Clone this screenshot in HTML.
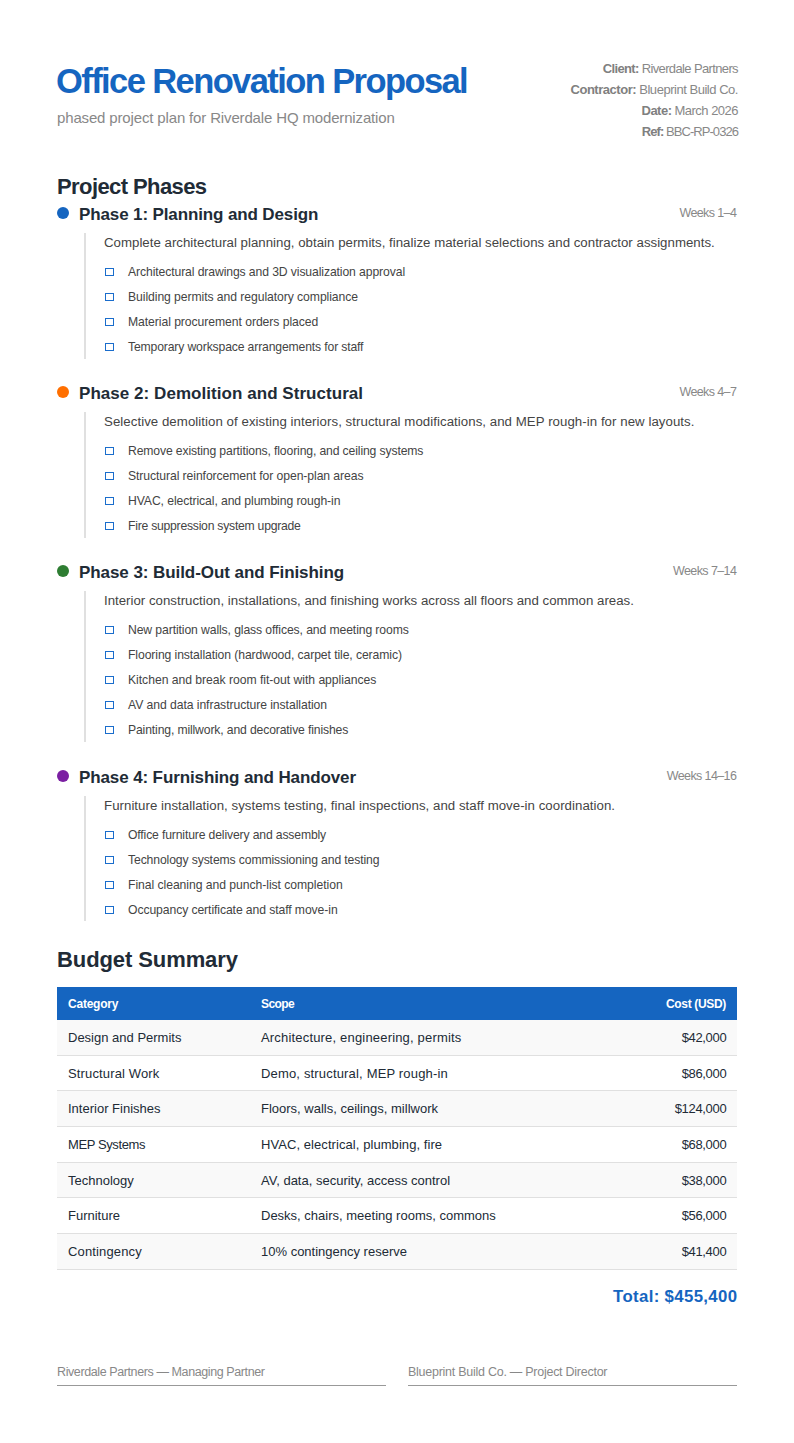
<!DOCTYPE html>
<html><head><meta charset="utf-8">
<style>
*{box-sizing:border-box;margin:0;padding:0}
html,body{background:#fff;width:794px;height:1443px;overflow:hidden}
body{font-family:"Liberation Sans",sans-serif;color:#212b36;position:relative}
.hdr{position:absolute;left:57px;top:0;width:680px;height:160px}
.title{position:absolute;left:-1px;top:60.5px;font-size:34.5px;line-height:40px;font-weight:bold;color:#1565c0;letter-spacing:-1.59px;white-space:nowrap}
.sub{position:absolute;left:0;top:107.5px;font-size:15px;line-height:20px;color:#888;letter-spacing:-0.15px;white-space:nowrap}
.meta{position:absolute;right:-1px;top:58.7px;text-align:right;font-size:13px;color:#888;white-space:nowrap}
.meta div{height:21.25px;line-height:20px}
.meta b{color:#808080}
h2{position:absolute;left:57px;font-size:22px;line-height:28px;font-weight:bold;color:#212b36;white-space:nowrap}
.phase{position:absolute;left:57px;width:680px}
.ph{height:24px;position:relative}
.dot{position:absolute;left:0;top:5px;width:12px;height:12px;border-radius:50%}
.pt{position:absolute;left:22px;top:1px;font-size:17px;line-height:24px;font-weight:bold;white-space:nowrap}
.wk{position:absolute;right:0.7px;top:1px;font-size:12.5px;line-height:20px;color:#888;letter-spacing:-0.6px;white-space:nowrap}
.pb{margin-left:27px;margin-top:7px;border-left:2px solid #e0e0e0;padding-left:18px}
.desc{position:relative;top:1px;font-size:13.25px;line-height:18px;color:#444;white-space:nowrap;margin-bottom:7.5px}
.it{position:relative;top:1.5px;height:25px;line-height:25px;font-size:12.2px;color:#444;padding-left:24px;white-space:nowrap}
.cb{position:absolute;left:1px;top:8px;width:9px;height:8px;border:1px solid #1a6dcc}
table{position:absolute;left:57px;top:987px;width:680px;border-collapse:collapse;font-size:13px}
th{background:#1565c0;color:#fff;font-weight:bold;text-align:left;height:32.5px;padding:2px 11px 0;font-size:12px}
td{height:35.7px;padding:0 11px;border-bottom:1px solid #e0e0e0;color:#212b36}
tbody tr:nth-child(odd) td{background:#f9f9f9}
.r{text-align:right}
td.r{letter-spacing:-0.33px;padding-right:10.7px}
.total{position:absolute;right:56.6px;top:1284.5px;font-size:16.8px;line-height:24px;font-weight:bold;color:#1565c0;letter-spacing:0.35px;white-space:nowrap}
.sig{position:absolute;top:1360px;width:329px;height:26px;border-bottom:1px solid #999;font-size:12.5px;line-height:24px;color:#888;letter-spacing:-0.35px;white-space:nowrap}
</style></head>
<body>
<div class="hdr">
  <div class="title">Office Renovation Proposal</div>
  <div class="sub">phased project plan for Riverdale HQ modernization</div>
  <div class="meta">
    <div style="letter-spacing:-0.63px"><b>Client:</b> Riverdale Partners</div>
    <div style="letter-spacing:-0.47px"><b>Contractor:</b> Blueprint Build Co.</div>
    <div style="letter-spacing:-0.52px"><b>Date:</b> March 2026</div>
    <div style="letter-spacing:-0.94px"><b>Ref:</b> BBC-RP-0326</div>
  </div>
</div>

<h2 style="top:173px;letter-spacing:-0.59px">Project Phases</h2>

<div class="phase" style="top:202px">
  <div class="ph"><span class="dot" style="background:#1565c0"></span><span class="pt" style="letter-spacing:-0.126px">Phase 1: Planning and Design</span><span class="wk">Weeks 1–4</span></div>
  <div class="pb">
    <div class="desc" style="letter-spacing:0.016px">Complete architectural planning, obtain permits, finalize material selections and contractor assignments.</div>
    <div class="it" style="letter-spacing:-0.106px"><span class="cb"></span>Architectural drawings and 3D visualization approval</div>
    <div class="it" style="letter-spacing:-0.072px"><span class="cb"></span>Building permits and regulatory compliance</div>
    <div class="it" style="letter-spacing:-0.064px"><span class="cb"></span>Material procurement orders placed</div>
    <div class="it" style="letter-spacing:-0.149px"><span class="cb"></span>Temporary workspace arrangements for staff</div>
  </div>
</div>

<div class="phase" style="top:381px">
  <div class="ph"><span class="dot" style="background:#ff6f00"></span><span class="pt" style="letter-spacing:0.050px">Phase 2: Demolition and Structural</span><span class="wk">Weeks 4–7</span></div>
  <div class="pb">
    <div class="desc" style="letter-spacing:0.051px">Selective demolition of existing interiors, structural modifications, and MEP rough-in for new layouts.</div>
    <div class="it" style="letter-spacing:-0.132px"><span class="cb"></span>Remove existing partitions, flooring, and ceiling systems</div>
    <div class="it" style="letter-spacing:-0.085px"><span class="cb"></span>Structural reinforcement for open-plan areas</div>
    <div class="it" style="letter-spacing:-0.089px"><span class="cb"></span>HVAC, electrical, and plumbing rough-in</div>
    <div class="it" style="letter-spacing:-0.244px"><span class="cb"></span>Fire suppression system upgrade</div>
  </div>
</div>

<div class="phase" style="top:560px">
  <div class="ph"><span class="dot" style="background:#2e7d32"></span><span class="pt" style="letter-spacing:-0.068px">Phase 3: Build-Out and Finishing</span><span class="wk">Weeks 7–14</span></div>
  <div class="pb">
    <div class="desc" style="letter-spacing:0.004px">Interior construction, installations, and finishing works across all floors and common areas.</div>
    <div class="it" style="letter-spacing:-0.106px"><span class="cb"></span>New partition walls, glass offices, and meeting rooms</div>
    <div class="it" style="letter-spacing:-0.097px"><span class="cb"></span>Flooring installation (hardwood, carpet tile, ceramic)</div>
    <div class="it" style="letter-spacing:-0.037px"><span class="cb"></span>Kitchen and break room fit-out with appliances</div>
    <div class="it" style="letter-spacing:-0.068px"><span class="cb"></span>AV and data infrastructure installation</div>
    <div class="it" style="letter-spacing:-0.142px"><span class="cb"></span>Painting, millwork, and decorative finishes</div>
  </div>
</div>

<div class="phase" style="top:764.5px">
  <div class="ph"><span class="dot" style="background:#7b1fa2"></span><span class="pt" style="letter-spacing:-0.114px">Phase 4: Furnishing and Handover</span><span class="wk">Weeks 14–16</span></div>
  <div class="pb">
    <div class="desc" style="letter-spacing:0.034px">Furniture installation, systems testing, final inspections, and staff move-in coordination.</div>
    <div class="it" style="letter-spacing:-0.148px"><span class="cb"></span>Office furniture delivery and assembly</div>
    <div class="it" style="letter-spacing:-0.122px"><span class="cb"></span>Technology systems commissioning and testing</div>
    <div class="it" style="letter-spacing:-0.054px"><span class="cb"></span>Final cleaning and punch-list completion</div>
    <div class="it" style="letter-spacing:-0.092px"><span class="cb"></span>Occupancy certificate and staff move-in</div>
  </div>
</div>

<h2 style="top:945.6px;letter-spacing:-0.09px">Budget Summary</h2>

<table>
  <thead><tr><th style="width:193px;letter-spacing:-0.23px">Category</th><th style="letter-spacing:-0.6px">Scope</th><th class="r" style="letter-spacing:-0.33px">Cost (USD)</th></tr></thead>
  <tbody>
    <tr><td>Design and Permits</td><td style="letter-spacing:0.18px">Architecture, engineering, permits</td><td class="r">$42,000</td></tr>
    <tr><td style="letter-spacing:0.14px">Structural Work</td><td style="letter-spacing:0.17px">Demo, structural, MEP rough-in</td><td class="r">$86,000</td></tr>
    <tr><td>Interior Finishes</td><td>Floors, walls, ceilings, millwork</td><td class="r">$124,000</td></tr>
    <tr><td style="letter-spacing:-0.4px">MEP Systems</td><td style="letter-spacing:0.07px">HVAC, electrical, plumbing, fire</td><td class="r">$68,000</td></tr>
    <tr><td>Technology</td><td>AV, data, security, access control</td><td class="r">$38,000</td></tr>
    <tr><td>Furniture</td><td>Desks, chairs, meeting rooms, commons</td><td class="r">$56,000</td></tr>
    <tr><td style="letter-spacing:0.15px">Contingency</td><td>10% contingency reserve</td><td class="r">$41,400</td></tr>
  </tbody>
</table>

<div class="total">Total: $455,400</div>

<div class="sig" style="left:57px;letter-spacing:-0.4px">Riverdale Partners — Managing Partner</div>
<div class="sig" style="left:408px;letter-spacing:-0.26px">Blueprint Build Co. — Project Director</div>
</body></html>
